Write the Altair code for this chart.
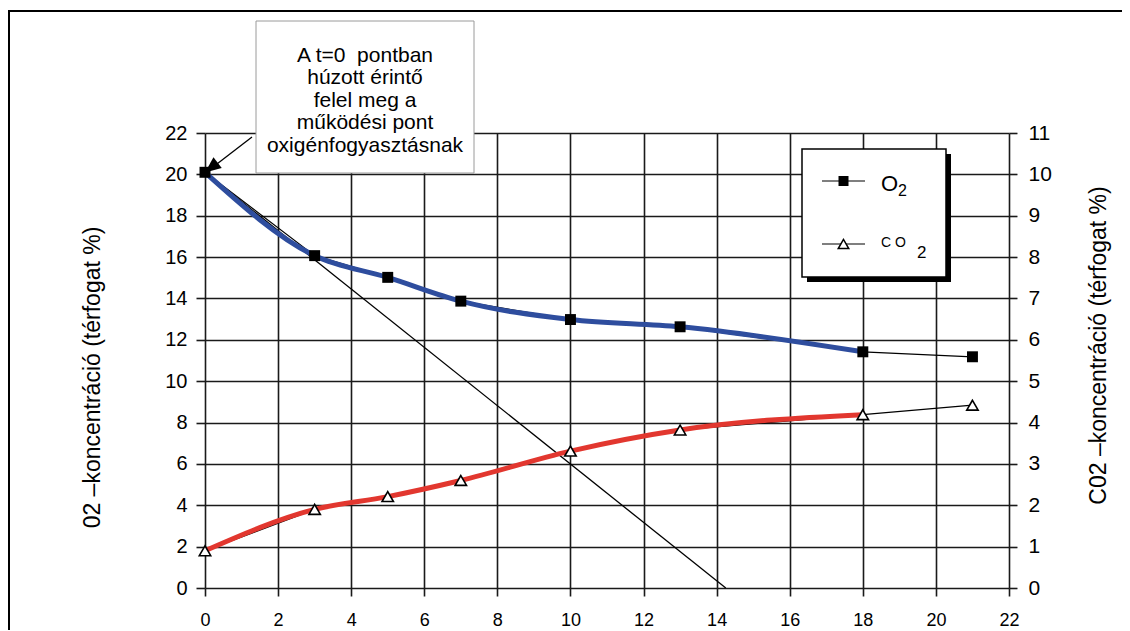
import altair as alt
import pandas as pd

# ---- data ----
time = [0, 3, 5, 7, 10, 13, 18, 21]
o2 = [20.1, 16.07, 15.02, 13.87, 12.98, 12.63, 11.42, 11.18]      # left axis, %
co2 = [0.9, 1.9, 2.21, 2.6, 3.31, 3.82, 4.19, 4.42]               # right axis, %
fit_last = 18                                                     # thick fitted curve ends here
tangent_t = [0, 14.25]
tangent_o2 = [20.1, 0]

x_ticks = list(range(0, 23, 2))
left_ticks = list(range(0, 23, 2))
right_ticks = list(range(0, 12))

note_text = "A t=0\u00a0 pontban\nhúzott érintő\nfelel meg a\nműködési pont\noxigénfogyasztásnak"
left_title = "02 –koncentráció (térfogat %)"
right_title = "C02 –koncentráció (térfogat %)"

BLUE = "#2E4D9E"
RED = "#E2372F"
INK = "#1a1a1a"
FONT = "Liberation Sans"

W, H = 804, 455

df = pd.DataFrame({"t": time, "o2": o2, "co2": co2})
fit = df[df.t <= fit_last]
tan = pd.DataFrame({"t": tangent_t, "o2": tangent_o2})
one = pd.DataFrame({"a": [0]})

xs = alt.Scale(domain=[0, 22], nice=False, zero=False)
ysl = alt.Scale(domain=[0, 22], nice=False, zero=False)
ysr = alt.Scale(domain=[0, 11], nice=False, zero=False)

x_axis = alt.Axis(values=x_ticks, grid=True, gridColor=INK, gridWidth=1.6, gridOpacity=1,
                  domain=False, tickColor=INK, tickWidth=1.6, tickSize=8,
                  labelFont=FONT, labelFontSize=18, labelColor="black", labelPadding=15,
                  labelFlush=False, title=None)
left_axis = alt.Axis(values=left_ticks, grid=True, gridColor=INK, gridWidth=1.6, gridOpacity=1,
                     domain=False, tickColor=INK, tickWidth=1.6, tickSize=9,
                     labelFont=FONT, labelFontSize=20, labelColor="black", labelPadding=9,
                     labelFlush=False, title=left_title, titleFont=FONT, titleFontSize=23,
                     titleFontWeight="normal", titleColor="black", titleAngle=270,
                     titleX=-113, titleY=244, titleAlign="center", titleBaseline="middle")
right_axis = alt.Axis(values=right_ticks, orient="right", grid=False,
                      domain=False, tickColor=INK, tickWidth=1.6, tickSize=8,
                      labelFont=FONT, labelFontSize=21, labelColor="black", labelPadding=11,
                      labelFlush=False, title=right_title, titleFont=FONT, titleFontSize=23,
                      titleFontWeight="normal", titleColor="black", titleAngle=270,
                      titleX=89, titleY=212, titleAlign="center", titleBaseline="middle")

X = alt.X("t:Q", scale=xs, axis=x_axis)
YL = alt.Y("o2:Q", scale=ysl, axis=left_axis)
YR = alt.Y("co2:Q", scale=ysr, axis=right_axis)

# ---- O2 layer (left axis) ----
o2_thin = alt.Chart(df).mark_line(color="black", strokeWidth=1.2).encode(x=X, y=YL)
tangent = alt.Chart(tan).mark_line(color="black", strokeWidth=1.3).encode(x=X, y=YL)
o2_thick = alt.Chart(fit).mark_line(color=BLUE, strokeWidth=5, interpolate="monotone").encode(
    x=X, y=YL)
o2_pts = alt.Chart(df).mark_point(shape="square", filled=True, color="black", size=120,
                                  opacity=1).encode(x=X, y=YL)
layerA = alt.layer(o2_thin, tangent, o2_thick, o2_pts)

# ---- CO2 layer (right axis) ----
co2_thin = alt.Chart(df).mark_line(color="black", strokeWidth=1.2).encode(x=X, y=YR)
co2_thick = alt.Chart(fit).mark_line(color=RED, strokeWidth=5, interpolate="monotone").encode(
    x=X, y=YR)
co2_pts = alt.Chart(df).mark_point(shape="triangle-up", filled=True, fill="white",
                                   stroke="black", strokeWidth=1.6, size=130, opacity=1).encode(
    x=X, y=YR)
layerB = alt.layer(co2_thin, co2_thick, co2_pts)

# ---- decorations (frame, annotation, legend) ----
base = alt.Chart(one)
frame_left = base.mark_rule(color="black", strokeWidth=2).encode(
    x=alt.value(-196), y=alt.value(-123), y2=alt.value(520))
frame_top = base.mark_rule(color="black", strokeWidth=2).encode(
    x=alt.value(-197), x2=alt.value(920), y=alt.value(-122))

note_box = base.mark_rect(fill="white", stroke="#9a9a9a", strokeWidth=1).encode(
    x=alt.value(51), x2=alt.value(269), y=alt.value(-112), y2=alt.value(40))
note = base.mark_text(font=FONT, fontSize=21, color="black", align="center",
                      baseline="alphabetic", lineBreak="\n", lineHeight=22.5).encode(
    x=alt.value(160), y=alt.value(-71.5), text=alt.value(note_text))
arrow_line = base.mark_rule(color="black", strokeWidth=1.3).encode(
    x=alt.value(47), x2=alt.value(8), y=alt.value(4), y2=alt.value(34))
arrow_head = base.mark_point(shape="M0,0 L-0.42,1 L0.42,1 Z", filled=True, color="black",
                             opacity=1, size=1024, angle=232).encode(
    x=alt.value(0), y=alt.value(39.5))

leg_shadow = base.mark_rect(fill="black").encode(
    x=alt.value(602), x2=alt.value(746), y=alt.value(21), y2=alt.value(149))
leg_box = base.mark_rect(fill="white", stroke="black", strokeWidth=1.5).encode(
    x=alt.value(597), x2=alt.value(741), y=alt.value(16), y2=alt.value(144))
leg_l1 = base.mark_rule(color="black", strokeWidth=1.2).encode(
    x=alt.value(617), x2=alt.value(660), y=alt.value(48))
leg_p1 = base.mark_point(shape="square", filled=True, color="black", size=100, opacity=1).encode(
    x=alt.value(638.5), y=alt.value(48))
leg_l2 = base.mark_rule(color="black", strokeWidth=1.2).encode(
    x=alt.value(617), x2=alt.value(660), y=alt.value(111))
leg_p2 = base.mark_point(shape="triangle-up", filled=True, fill="white", stroke="black",
                         strokeWidth=1.5, size=110, opacity=1).encode(
    x=alt.value(638.5), y=alt.value(111))
leg_t1 = base.mark_text(font=FONT, fontSize=22, color="black", align="left",
                        baseline="alphabetic").encode(
    x=alt.value(676), y=alt.value(58), text=alt.value("O"))
leg_t1s = base.mark_text(font=FONT, fontSize=16, color="black", align="left",
                         baseline="alphabetic").encode(
    x=alt.value(693), y=alt.value(63), text=alt.value("2"))
leg_t2 = base.mark_text(font=FONT, fontSize=14, color="black", align="left",
                        baseline="alphabetic").encode(
    x=alt.value(676), y=alt.value(114), text=alt.value("C O"))
leg_t2s = base.mark_text(font=FONT, fontSize=17, color="black", align="left",
                         baseline="alphabetic").encode(
    x=alt.value(712), y=alt.value(125), text=alt.value("2"))

deco = alt.layer(frame_left, frame_top, note_box, note, arrow_line, arrow_head,
                 leg_shadow, leg_box, leg_l1, leg_p1, leg_l2, leg_p2,
                 leg_t1, leg_t1s, leg_t2, leg_t2s)

chart = alt.layer(layerA, layerB, deco).resolve_scale(y="independent").properties(
    width=W, height=H,
    autosize=alt.AutoSizeParams(type="none"),
    padding={"left": 197, "top": 125, "right": 113, "bottom": 42},
    background="white",
).configure_view(stroke=None)

chart.save("out.html", embed_options={"renderer": "svg", "actions": False})
